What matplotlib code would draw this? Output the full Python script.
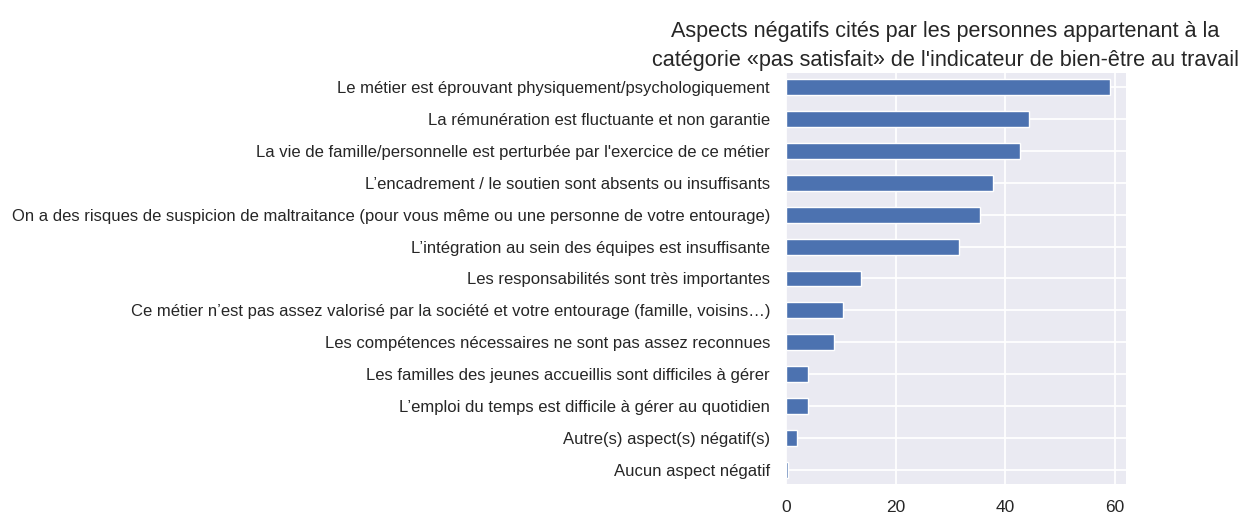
import numpy as np
import matplotlib
matplotlib.use('Agg')
from matplotlib import pyplot as plt

# negative aspects, listed top to bottom as displayed
aspects = [
	'Le métier est éprouvant physiquement/psychologiquement',
	'La rémunération est fluctuante et non garantie',
	"La vie de famille/personnelle est perturbée par l'exercice de ce métier",
	'L’encadrement / le soutien sont absents ou insuffisants',
	'On a des risques de suspicion de maltraitance (pour vous même ou une personne de votre entourage)',
	'L’intégration au sein des équipes est insuffisante',
	'Les responsabilités sont très importantes',
	'Ce métier n’est pas assez valorisé par la société et votre entourage (famille, voisins…)',
	'Les compétences nécessaires ne sont pas assez reconnues',
	'Les familles des jeunes accueillis sont difficiles à gérer',
	'L’emploi du temps est difficile à gérer au quotidien',
	'Autre(s) aspect(s) négatif(s)',
	'Aucun aspect négatif',
]
counts = [59.0, 44.3, 42.6, 37.8, 35.3, 31.5, 13.6, 10.4, 8.7, 4.0, 4.0, 2.0, 0.3]
title = ('Aspects négatifs cités par les personnes appartenant à la\n'
	'catégorie «pas satisfait» de l\'indicateur de bien-être au travail')

plt.rcParams['font.family'] = ['Liberation Sans', 'DejaVu Sans']
plt.rcParams['text.color'] = '#262626'

fig = plt.figure(figsize=(12.5, 5.18), dpi=100)
ax = fig.add_axes([0.6288, 0.0651, 0.2718, 0.7946])
ax.set_facecolor('#EAEAF2')
for s in ax.spines.values():
	s.set_visible(False)

pos = np.arange(len(aspects))[::-1]
ax.barh(pos, counts, height=0.5, color='#4C72B0', edgecolor='white', linewidth=1)
ax.set_yticks(pos)
ax.set_yticklabels(aspects, fontsize=12, color='#262626')
ax.set_xticks([0, 20, 40, 60])
ax.tick_params(axis='x', labelsize=12.5, colors='#262626', length=0, pad=11)
ax.tick_params(axis='y', length=0, pad=11.5)
ax.set_xlim(0, max(counts) * 1.05)
ax.set_ylim(-0.45, len(aspects) - 0.55)
ax.grid(True, color='white', linewidth=1.3)
ax.set_axisbelow(True)
ax.set_title(title, fontsize=15.6, color='#262626', pad=5, linespacing=1.5, x=0.468)

fig.savefig('out.png', dpi=100)
